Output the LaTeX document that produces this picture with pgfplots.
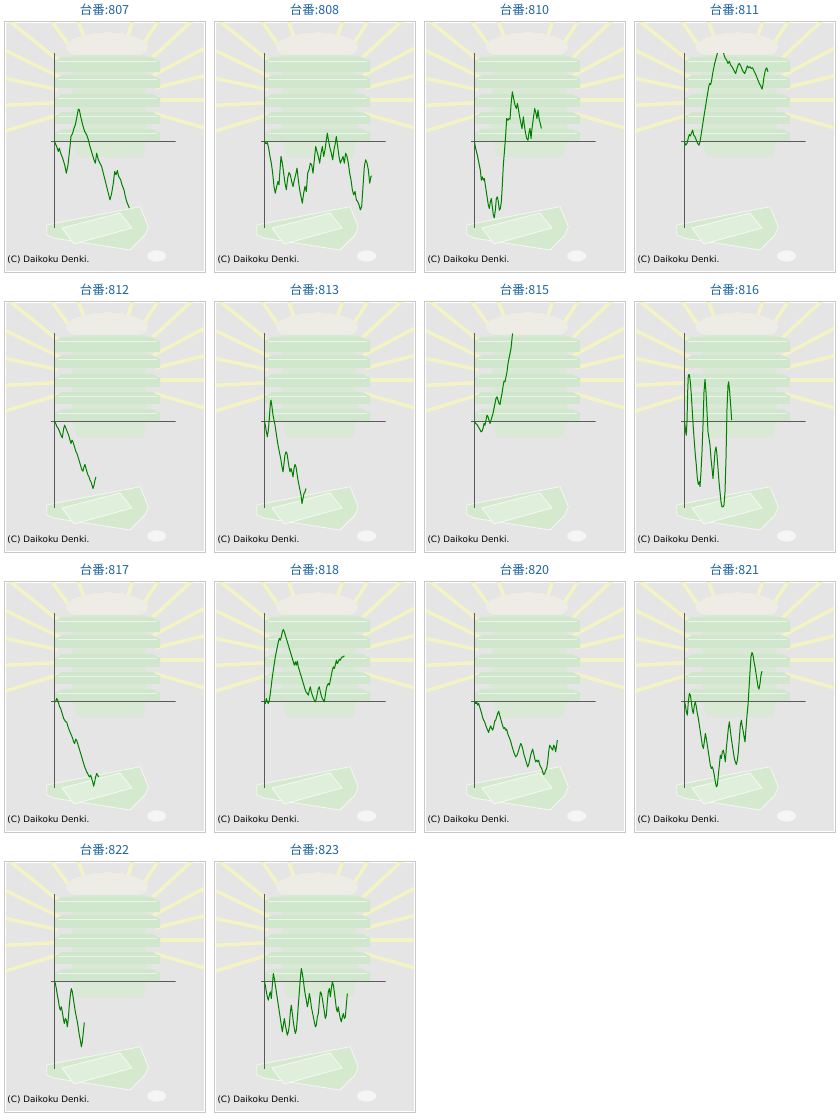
\documentclass[border=0pt]{standalone}
\usepackage{fontspec}
\usepackage{pgfplots}
\pgfplotsset{compat=1.18}
\newfontfamily\cjk{Noto Sans CJK JP}
\newfontfamily\dejavu{DejaVu Sans}
\definecolor{boxfill}{RGB}{229,229,229}
\definecolor{boxedge}{RGB}{200,200,200}
\definecolor{raycol}{RGB}{243,243,198}
\definecolor{platecol}{RGB}{209,231,205}
\definecolor{bodycol}{RGB}{217,233,213}
\definecolor{traycol}{RGB}{213,233,207}
\definecolor{trayin}{RGB}{223,239,219}
\definecolor{ballcol}{RGB}{238,236,228}
\definecolor{titleblue}{RGB}{32,100,158}
\definecolor{axcol}{RGB}{90,90,90}
\definecolor{linegreen}{RGB}{0,128,0}

\newcommand{\deco}{%
  \fill[boxfill] (4,21) rectangle (206,273);
  \draw[boxedge, line width=1pt] (4.5,21.5) rectangle (205.5,272.5);
  \draw[white, line width=1pt] (5.5,22.5) rectangle (204.5,271.5);
  \begin{scope}
    \clip (6,23) rectangle (204,271);
    \foreach \a in {-197,-183,-168,-154,-141,-125,-110,-72,-57,-43,-28,-14,0,16}
      {\draw[raycol, line width=3.5pt] (107,100) ++(\a:50) -- ++(\a:130);}
  \end{scope}
  % ball mound
  \fill[ballcol] (107,47) ellipse [x radius=41, y radius=14];
  \foreach \bx/\by in {75/47,85/40,96/37,108/36,120/37,131/40,141/46,90/50,104/48,118/49,132/52}
    {\draw[white!85!gray, fill=ballcol] (\bx,\by) ellipse [x radius=6, y radius=4];}
  % stack body
  \fill[bodycol] (72,55) -- (146,55) -- (147,140) -- (143,157) -- (77,157) -- (72,140) -- cycle;
  \foreach \ta/\tb in {57/72,75/88,94/107,112/124,129/141}
    {\fill[platecol] (55,\ta+4) -- (62,\ta) -- (152,\ta) -- (160,\ta+4) -- (160,\tb) -- (55,\tb) -- cycle;
     \draw[white, opacity=0.55, line width=1pt] (58,\ta+5) -- (157,\ta+5);}
  % bottom tray
  \fill[traycol] (46.7,225) -- (140,206.7) -- (148.3,226.7) -- (145,235) -- (130,250) -- (55,238.3) -- (46.7,235) -- cycle;
  \draw[white, opacity=0.7, line width=0.8pt] (46.7,225) -- (140,206.7) -- (148.3,226.7) -- (145,235) -- (130,250) -- (55,238.3) -- (46.7,235) -- cycle;
  \fill[trayin] (62,228) -- (120,213) -- (132,228) -- (74,244) -- cycle;
  \draw[white, opacity=0.7, line width=0.8pt] (62,228) -- (120,213) -- (132,228) -- (74,244) -- cycle;
  % coin
  \fill[white!92!gray] (156.7,256) ellipse [x radius=10, y radius=6];
  \draw[white!80!gray, line width=0.6pt] (156.7,256) ellipse [x radius=10, y radius=6];
}

\newcommand{\panel}[6]{%
  \begin{scope}[yshift=1120pt, x=1pt, y=-1pt, shift={(#1,#2)}]
    \deco
    \node[anchor=base, text=titleblue, font=\cjk\fontsize{12.5}{14}\selectfont, inner sep=0pt] at (104.5,15) {台番:#3};
    \node[anchor=base west, font=\dejavu\fontsize{8.8}{10}\selectfont, inner sep=0pt] at (7.3,262.7) {(C) Daikoku Denki.};
  \end{scope}
  \pgfmathsetmacro\ax{#1+51.0}\pgfmathsetmacro\ay{1120-#2-228.5}%
  \pgfmathsetmacro\xmn{#4-10}\pgfmathsetmacro\xmx{#4+364}%
  \pgfmathsetmacro\ymn{#5-263}\pgfmathsetmacro\ymx{#5+262}%
  \begin{axis}[at={(\ax pt,\ay pt)}, anchor=south west, scale only axis,
      width=124.67pt, height=175pt, xmin=\xmn, xmax=\xmx, ymin=\ymn, ymax=\ymx,
      y dir=reverse, hide axis, clip=true]
    \draw[axcol, line width=1pt] (axis cs:#4,\ymn) -- (axis cs:#4,\ymx);
    \draw[axcol, line width=1pt] (axis cs:\xmn,#5) -- (axis cs:\xmx,#5);
    \addplot[linegreen, line width=1pt, no marks, line join=round] coordinates {#6};
  \end{axis}%
}

\begin{document}
\begin{tikzpicture}
\useasboundingbox (0,0) rectangle (840pt,1120pt);
\fill[white] (0,0) rectangle (840pt,1120pt);

\panel{0}{0}{807}{163}{424}{(163,424)(170,440)(175,455)(178,445)(182,460)(188,475)(194,495)(199,520)(204,495)(210,440)(213,410)(218,400)(222,385)(226,375)(230,355)(235,328)(238,330)(242,350)(248,375)(254,395)(260,405)(265,420)(270,440)(276,460)(282,480)(286,490)(290,460)(295,480)(300,490)(305,500)(310,520)(315,540)(320,560)(325,580)(330,600)(335,580)(340,550)(344,515)(348,525)(352,512)(356,530)(362,540)(366,555)(372,570)(376,590)(380,605)(384,615)(388,625)}

\panel{210}{0}{808}{163}{424}{(163,424)(168,432)(172,428)(176,445)(180,470)(184,490)(188,520)(192,560)(196,580)(200,560)(204,545)(207,555)(210,510)(213,470)(217,490)(221,520)(225,550)(229,570)(233,535)(237,518)(241,525)(245,545)(249,560)(253,540)(257,525)(261,505)(265,540)(269,570)(273,590)(277,610)(281,580)(285,560)(289,575)(293,520)(297,510)(301,490)(305,495)(309,520)(313,480)(317,440)(321,455)(325,470)(329,490)(333,460)(337,440)(341,470)(345,450)(349,420)(352,400)(356,425)(360,445)(364,460)(368,480)(372,450)(376,430)(379,410)(383,440)(387,470)(391,490)(395,480)(399,470)(403,490)(407,460)(411,470)(415,490)(419,520)(423,540)(427,570)(431,585)(435,575)(439,600)(443,605)(447,615)(451,630)(455,620)(459,560)(463,500)(467,480)(471,490)(475,510)(479,550)(483,530)(485,528)}

\panel{420}{0}{810}{13}{288}{(13,288)(17,310)(22,330)(27,355)(31,375)(34,405)(37,395)(40,405)(43,400)(46,420)(49,440)(52,460)(55,480)(58,490)(61,470)(64,460)(67,485)(70,510)(73,518)(76,495)(79,460)(82,455)(85,470)(88,495)(91,490)(94,470)(97,420)(100,360)(104,310)(107,270)(110,220)(114,225)(117,220)(120,222)(123,180)(127,140)(131,160)(135,180)(139,190)(142,175)(145,190)(148,210)(152,230)(156,250)(160,215)(163,240)(166,260)(170,280)(174,285)(177,262)(180,250)(183,280)(186,250)(190,220)(194,190)(198,205)(201,220)(204,195)(208,225)(211,235)(214,250)}

\panel{630}{0}{811}{643}{288}{(643,288)(647,300)(651,295)(655,278)(658,268)(661,272)(665,262)(668,255)(671,270)(675,275)(679,285)(683,295)(687,300)(690,290)(694,265)(697,245)(700,225)(704,200)(708,175)(712,150)(716,125)(719,115)(722,118)(725,105)(728,85)(731,70)(734,55)(738,40)(742,25)(745,15)(752,8)(760,22)(765,38)(770,45)(774,55)(778,48)(782,60)(786,65)(790,72)(794,80)(797,85)(801,70)(805,58)(808,55)(812,62)(816,72)(820,80)(824,85)(828,75)(832,62)(836,68)(840,65)(844,70)(848,68)(852,78)(856,85)(860,95)(864,105)(868,115)(872,122)(876,132)(879,118)(882,95)(886,75)(890,68)(894,80)}

\panel{0}{280}{812}{13}{288}{(13,288)(17,295)(21,305)(25,310)(29,320)(33,330)(37,338)(41,310)(44,300)(48,310)(52,320)(56,330)(60,345)(63,355)(66,345)(69,350)(72,360)(75,370)(78,380)(81,385)(84,395)(87,405)(90,415)(93,425)(96,435)(99,438)(102,425)(105,418)(108,430)(111,440)(114,450)(117,455)(120,465)(123,470)(126,480)(129,490)(132,480)(135,465)(138,455)}

\panel{210}{280}{813}{643}{288}{(643,288)(646,300)(649,320)(652,335)(655,315)(658,280)(661,235)(663,225)(666,245)(669,270)(672,285)(675,300)(678,320)(681,340)(684,360)(687,375)(690,390)(693,405)(696,425)(699,440)(702,415)(705,390)(708,380)(711,385)(714,405)(717,425)(720,440)(723,430)(726,440)(729,455)(732,430)(735,418)(738,425)(741,445)(744,465)(747,480)(750,495)(753,510)(756,535)(759,520)(762,505)(765,500)(768,490)}

\panel{420}{280}{815}{13}{288}{(13,288)(17,295)(21,298)(25,305)(29,312)(33,320)(36,318)(39,310)(42,295)(45,300)(48,285)(51,270)(54,275)(57,285)(60,295)(63,285)(66,275)(69,265)(72,250)(75,235)(78,220)(81,215)(84,225)(87,235)(90,238)(93,220)(96,205)(99,185)(102,168)(105,170)(108,155)(111,140)(114,115)(117,100)(120,85)(123,70)(125,50)(127,30)(128,25)}

\panel{630}{280}{816}{643}{288}{(643,288)(645,300)(647,320)(649,330)(651,290)(653,200)(655,150)(658,148)(661,170)(664,210)(667,260)(670,310)(673,350)(676,390)(679,420)(682,460)(685,478)(688,470)(690,484)(693,440)(696,380)(699,300)(702,200)(705,163)(708,200)(711,260)(714,320)(717,340)(720,360)(723,400)(726,430)(729,460)(732,420)(735,380)(738,365)(741,390)(744,430)(747,470)(750,500)(753,530)(756,545)(759,545)(762,540)(765,500)(768,400)(771,250)(774,180)(776,170)(779,200)(782,240)(785,285)}

\panel{0}{560}{817}{13}{288}{(13,288)(17,290)(20,280)(23,285)(26,295)(29,305)(32,310)(35,320)(38,330)(41,340)(44,345)(47,350)(50,350)(53,362)(56,370)(59,378)(62,385)(65,392)(68,400)(71,410)(74,415)(77,402)(80,405)(83,415)(86,425)(89,435)(92,445)(95,455)(98,465)(101,475)(104,485)(107,492)(110,500)(113,505)(116,512)(119,515)(122,510)(125,520)(128,530)(131,543)(134,530)(137,515)(140,505)(143,510)(146,515)}

\panel{210}{560}{818}{643}{288}{(643,288)(646,295)(649,280)(652,290)(655,295)(658,285)(661,265)(664,240)(667,215)(670,195)(673,175)(676,155)(679,140)(682,125)(685,110)(688,100)(691,105)(694,95)(697,80)(700,73)(703,80)(706,90)(709,100)(712,110)(715,120)(718,130)(721,140)(724,150)(727,160)(730,170)(733,180)(736,170)(739,180)(742,168)(745,185)(748,195)(751,205)(754,215)(757,225)(760,235)(763,245)(766,255)(769,262)(772,265)(775,270)(778,255)(781,245)(784,260)(787,270)(790,278)(793,285)(796,290)(799,280)(802,265)(805,250)(808,245)(811,260)(814,272)(817,280)(820,285)(823,290)(826,270)(829,250)(832,240)(835,235)(838,240)(841,225)(844,210)(847,195)(850,185)(853,190)(856,180)(859,165)(862,175)(865,170)(868,162)(871,165)(874,158)(877,155)(880,155)(883,152)}

\panel{420}{560}{820}{13}{288}{(13,288)(17,295)(20,290)(23,300)(26,295)(29,305)(32,315)(35,325)(38,338)(41,345)(44,350)(47,360)(50,368)(53,375)(56,382)(59,370)(62,362)(65,370)(68,375)(71,365)(74,348)(77,345)(80,335)(83,325)(86,318)(89,330)(92,340)(95,352)(98,362)(101,370)(104,367)(107,375)(110,372)(113,385)(116,393)(119,400)(122,408)(125,420)(128,430)(131,440)(134,448)(137,455)(140,452)(143,445)(146,435)(149,425)(152,415)(155,420)(158,430)(161,445)(164,455)(167,465)(170,475)(173,485)(176,478)(179,465)(182,450)(185,440)(188,432)(191,445)(194,460)(197,470)(200,465)(203,470)(206,465)(209,478)(212,485)(215,490)(218,500)(221,508)(224,505)(227,495)(230,490)(233,470)(236,440)(239,420)(242,425)(245,430)(248,435)(251,420)(254,425)(257,440)(260,420)(262,405)}

\panel{630}{560}{821}{643}{288}{(643,288)(646,300)(649,320)(652,330)(655,290)(658,265)(661,270)(664,290)(667,315)(670,325)(673,300)(676,290)(679,305)(682,325)(685,340)(688,360)(691,380)(694,400)(697,420)(700,430)(703,410)(706,385)(709,400)(712,420)(715,440)(718,460)(721,480)(724,490)(727,485)(730,495)(733,510)(736,530)(739,545)(742,540)(745,510)(748,480)(751,450)(754,460)(757,440)(760,435)(763,450)(766,470)(769,430)(772,400)(775,370)(778,350)(781,375)(784,400)(787,420)(790,440)(793,460)(796,470)(799,478)(802,465)(805,440)(808,400)(811,360)(814,345)(817,365)(820,380)(823,400)(825,410)(828,370)(831,330)(834,300)(837,250)(840,200)(843,155)(846,142)(849,150)(852,170)(855,185)(858,205)(861,225)(864,245)(867,252)(870,235)(873,210)(876,198)}

\panel{0}{840}{822}{13}{288}{(13,288)(16,295)(19,310)(22,330)(25,345)(28,365)(31,375)(34,365)(37,380)(40,400)(43,415)(46,400)(49,405)(52,425)(55,400)(58,360)(61,330)(64,310)(67,320)(70,340)(73,360)(76,380)(79,395)(82,410)(85,430)(88,450)(91,465)(94,485)(97,470)(100,440)(103,412)}

\panel{210}{840}{823}{643}{288}{(643,288)(646,300)(649,320)(652,335)(655,345)(658,330)(661,320)(664,340)(667,300)(670,265)(673,280)(676,300)(679,320)(682,340)(685,360)(688,380)(691,400)(694,420)(697,440)(700,420)(703,400)(706,420)(709,435)(712,450)(715,440)(718,420)(721,380)(724,360)(727,385)(730,410)(733,430)(736,445)(739,435)(742,400)(745,360)(748,320)(751,280)(754,250)(757,265)(760,285)(763,310)(766,330)(769,345)(772,365)(775,350)(778,325)(781,340)(784,365)(787,380)(790,395)(793,410)(796,425)(799,420)(802,395)(805,385)(808,350)(811,320)(814,325)(817,340)(820,360)(823,380)(826,400)(829,390)(832,350)(835,320)(838,310)(841,335)(844,310)(847,290)(850,300)(853,320)(856,345)(859,370)(862,380)(865,365)(868,385)(871,400)(874,410)(877,395)(880,385)(883,400)(886,395)(889,360)(892,325)}

\end{tikzpicture}
\end{document}
